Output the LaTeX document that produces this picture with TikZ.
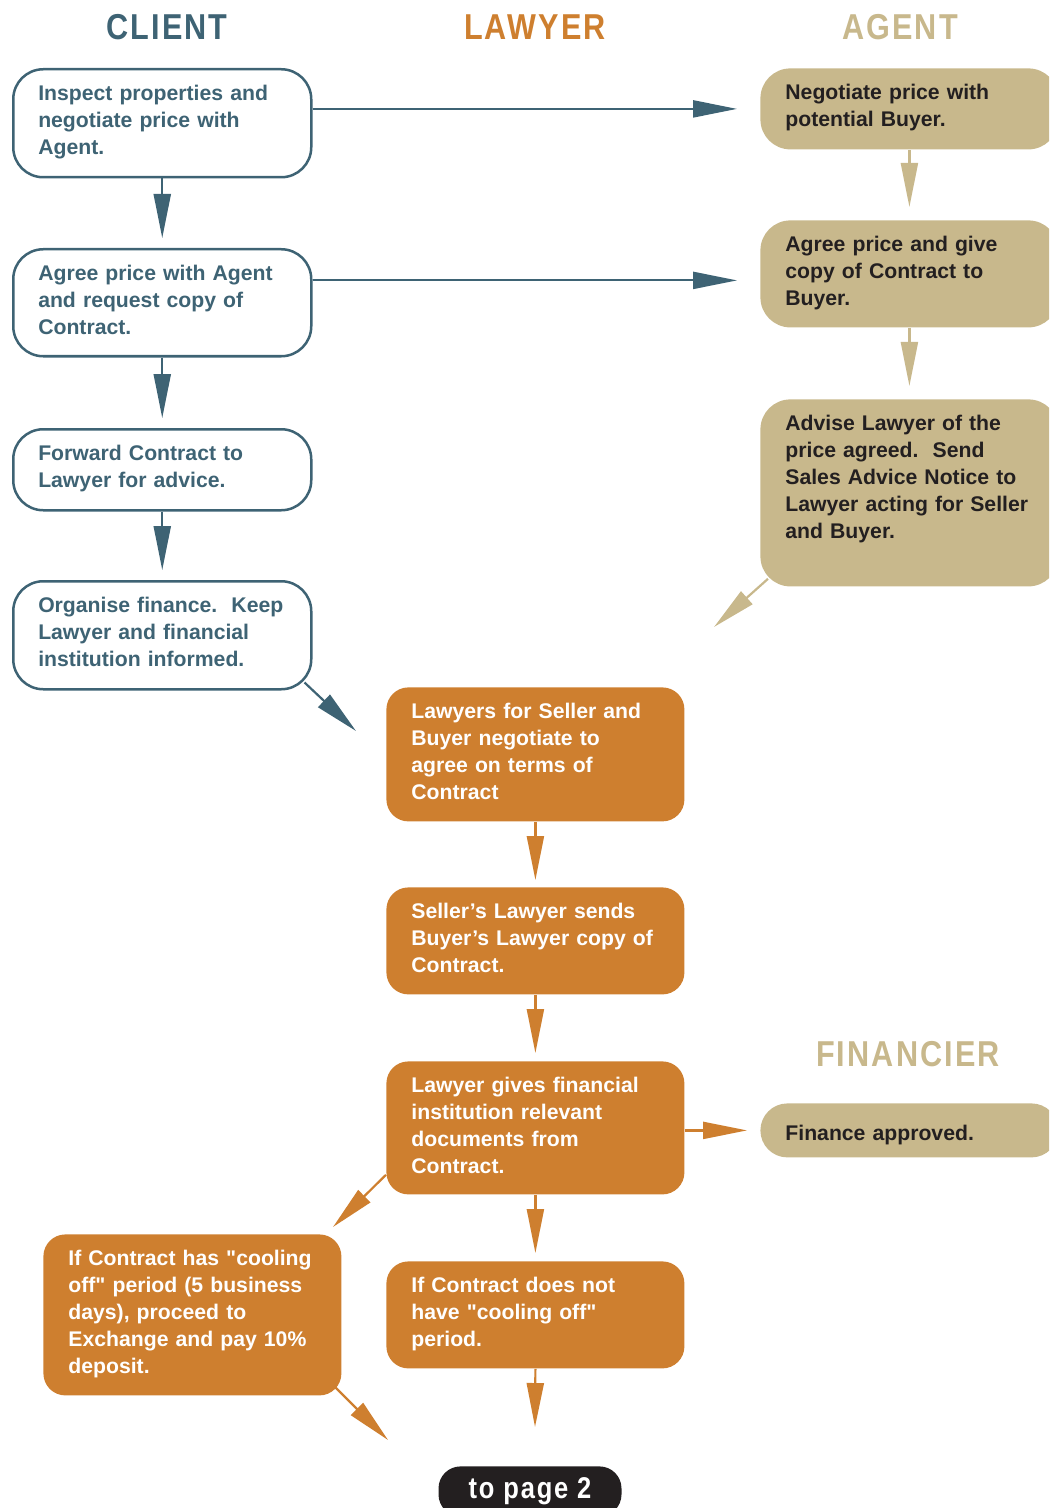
\documentclass[tikz,border=0pt]{standalone}
\usepackage{fontspec}
\setmainfont{Liberation Sans}
\newfontfamily\headfont[FakeStretch=0.85,LetterSpace=6]{Liberation Sans}
\usetikzlibrary{arrows.meta,positioning}

\definecolor{clientteal}{HTML}{3E6374}
\definecolor{lawyerorange}{HTML}{CE7F2F}
\definecolor{agenttan}{HTML}{C8B88C}
\definecolor{inkdark}{HTML}{231F20}

\tikzset{
  stepbox/.style={rectangle,anchor=north west,align=left,text width=124pt,
    inner xsep=12.5pt,inner ysep=0pt,text height=15.5pt},
  clientbox/.style={stepbox,draw=clientteal,line width=1.25pt,fill=white,
    rounded corners=15pt,text=clientteal},
  agentbox/.style={stepbox,fill=agenttan,rounded corners=15pt,text=inkdark},
  lawyerbox/.style={stepbox,fill=lawyerorange,rounded corners=11pt,text=white},
  head/.style={font=\headfont\fontsize{18}{18}\selectfont\bfseries},
  flow/.style={-{Triangle[length=22pt,width=8.5pt]},line width=1.1pt},
  clientflow/.style={flow,draw=clientteal},
  agentflow/.style={flow,draw=agenttan},
  lawyerflow/.style={flow,draw=lawyerorange}
}

\begin{document}
\begin{tikzpicture}[x=0.5pt,y=-0.5pt,
    every node/.style={font=\fontsize{10.6}{13.5}\selectfont\bfseries}]
  \useasboundingbox (0,0) rectangle (1049,1508);
  \clip (0,0) rectangle (1049,1508);

  % column heads
  \node[head,text=clientteal] (hclient) at (167,27) {CLIENT};
  \node[head,text=lawyerorange] (hlawyer) at (535,27) {LAWYER};
  \node[head,text=agenttan] (hagent) at (900,27) {AGENT};
  \node[head,text=agenttan] (hfinancier) at (908,1054) {FINANCIER};

  % client column
  \node[clientbox,text depth=38.5pt] (inspect) at (12,68) {Inspect properties and\\negotiate price with\\Agent.};
  \node[clientbox,text depth=38pt] (agree) at (12,248) {Agree price with Agent\\and request copy of\\Contract.};
  \node[clientbox,text depth=25pt] (forward) at (12,428) {Forward Contract to\\Lawyer for advice.};
  \node[clientbox,text depth=38.5pt] (organise) at (12,580) {Organise finance.\ \ Keep\\Lawyer and financial\\institution informed.};

  % agent column
  \node[agentbox,text depth=25pt] (negotiate) at (760,68) {Negotiate price with\\potential Buyer.};
  \node[agentbox,text depth=38pt] (givecopy) at (760,220) {Agree price and give\\copy of Contract to\\Buyer.};
  \node[agentbox,text depth=78pt] (advise) at (760,399) {Advise Lawyer of the\\price agreed.\ \ Send\\Sales Advice Notice to\\Lawyer acting for Seller\\and Buyer.};

  % lawyer column
  \node[lawyerbox,text depth=51.5pt] (terms) at (386,687) {Lawyers for Seller and\\Buyer negotiate to\\agree on terms of\\Contract};
  \node[lawyerbox,text depth=38pt] (sends) at (386,887) {Seller’s Lawyer sends\\Buyer’s Lawyer copy of\\Contract.};
  \node[lawyerbox,text depth=51pt] (documents) at (386,1061) {Lawyer gives financial\\institution relevant\\documents from\\Contract.};
  \node[lawyerbox,text depth=38pt] (nocooling) at (386,1261) {If Contract does not\\have \textquotedbl cooling off\textquotedbl\\period.};
  \node[lawyerbox,text depth=65pt] (cooling) at (43,1234) {If Contract has \textquotedbl cooling\\off\textquotedbl{} period (5 business\\days), proceed to\\Exchange and pay 10\%\\deposit.};

  % financier
  \node[agentbox,text height=18.5pt,text depth=8.5pt,rounded corners=13.5pt] (approved) at (760,1103) {Finance approved.};

  % next page
  \node[anchor=north,fill=inkdark,text=white,rounded corners=11pt,inner sep=0pt,
    minimum width=91.5pt,minimum height=25pt,
    font=\headfont\fontsize{15}{15}\selectfont\bfseries] (pagetwo) at (530,1466) {to page 2};

  % free ends
  \coordinate (organiseend) at (356,731);
  \coordinate (adviseend) at (714,627);
  \coordinate (coolingin) at (333,1227);
  \coordinate (coolingend) at (388,1440);
  \coordinate (nocoolingend) at (535,1427);

  % client flow
  \draw[clientflow,shorten >=5pt] (inspect.south) -- (agree.north);
  \draw[clientflow,shorten >=5pt] (agree.south) -- (forward.north);
  \draw[clientflow,shorten >=5pt] (forward.south) -- (organise.north);
  \draw[clientflow,shorten >=11.5pt] (negotiate.west -| inspect.east) -- (negotiate.west);
  \draw[clientflow,shorten >=11.5pt] ([yshift=-3.25pt]givecopy.west -| agree.east) -- ([yshift=-3.25pt]givecopy.west);
  \draw[clientflow] ([shift={(-4pt,4pt)}]organise.south east) -- (organiseend);

  % agent flow
  \draw[agentflow,shorten >=6.5pt] (negotiate.south) -- (givecopy.north);
  \draw[agentflow,shorten >=6.5pt] (givecopy.south) -- (advise.north);
  \draw[agentflow] ([shift={(4pt,4pt)}]advise.south west) -- (adviseend);

  % lawyer flow
  \draw[lawyerflow,shorten >=3.5pt] (terms.south) -- (sends.north);
  \draw[lawyerflow,shorten >=4pt] (sends.south) -- (documents.north);
  \draw[lawyerflow,shorten >=4pt] (documents.south) -- (nocooling.north);
  \draw[lawyerflow] (nocooling.south) -- (nocoolingend);
  \draw[lawyerflow,shorten >=6.5pt] (approved.west -| documents.east) -- (approved.west);
  \draw[lawyerflow] ([yshift=10pt]documents.south west) -- (coolingin);
  \draw[lawyerflow] ([shift={(-4pt,5pt)}]cooling.south east) -- (coolingend);
\end{tikzpicture}
\end{document}
